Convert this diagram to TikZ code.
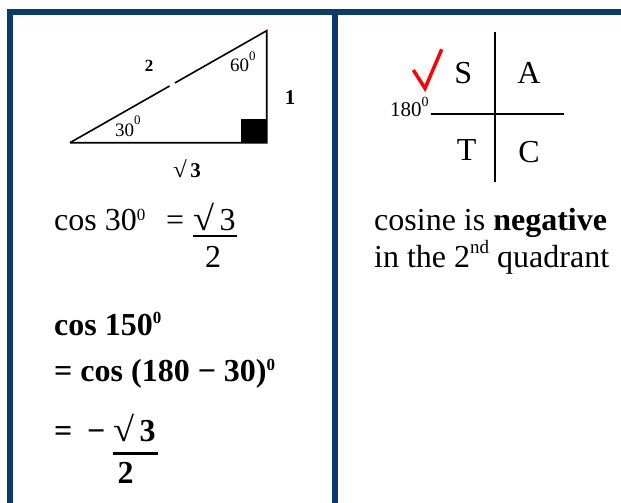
\documentclass[tikz,border=0pt]{standalone}
\usepackage{graphicx}
\usepackage{fontspec}
\setmainfont{Liberation Serif}
\usetikzlibrary{calc}
\definecolor{slideblue}{HTML}{0B3A6F}
\definecolor{tickred}{HTML}{FF0000}
\newcommand{\hi}[3]{\raisebox{#1pt}{\fontsize{#2}{#2}\selectfont #3}}
\newcommand{\rt}{\scalebox{1.2}[1.08]{√}}

\begin{document}
\begin{tikzpicture}[x=1pt,y=-1pt,
    frame/.style={draw=slideblue,line width=6pt},
    edge/.style={line width=1.6pt},
    axis/.style={line width=1.8pt},
    bar/.style={line width=2pt},
    tick/.style={draw=tickred,line width=3.5pt},
    txt/.style={inner sep=0pt,anchor=base west,font=\fontsize{32}{36}\selectfont},
    btxt/.style={txt,font=\fontsize{32}{36}\selectfont\bfseries},
    angle/.style={inner sep=0pt,anchor=base west,font=\fontsize{19}{22}\selectfont},
    side/.style={inner sep=0pt,anchor=base,font=\fontsize{21}{24}\selectfont\bfseries}
  ]
  \useasboundingbox (0,0) rectangle (621,503);
  \draw[frame] (10,503) -- (10,12) -- (621,12);
  \draw[frame] (335,12) -- (335,503);

  % triangle
  \coordinate (tA) at (70,142.7);
  \coordinate (tB) at (266.7,30.7);
  \coordinate (tC) at (266.7,142.7);
  \fill (240.7,119.3) rectangle (265.6,141.8);
  \draw[edge] (tA) -- ($(tA)!0.506!(tB)$);
  \draw[edge] ($(tA)!0.534!(tB)$) -- (tB) -- (tC) -- (tA);
  \node[side,font=\fontsize{17}{19}\selectfont\bfseries] (side2) at (149,71.5) {2};
  \node[side] (side1) at (290,104.5) {1};
  \node[side] (side3) at (187,177.3) {\rt\,3};
  \node[angle] (ang60) at (230,71) {60\hi{10}{13}{0}};
  \node[angle] (ang30) at (115,136.5) {30\hi{12}{13}{0}};

  \node[txt] (cosa) at (54,230.7) {cos 30\hi{10.7}{17}{0}};
  \node[txt] (eqa) at (166,230.7) {=};
  \node[txt] (numa) at (193,230.7) {\rt\,3};
  \node[txt,anchor=base] (dena) at (213,267.3) {2};
  \draw[bar] ($(numa.base west)+(0,5.3)$) -- ($(numa.base east)+(1,5.3)$);

  \node[btxt] (cosb) at (54,335.7) {cos 150\hi{12.7}{17}{0}};
  \node[btxt] (cosc) at (54,381.7) {= cos (180 − 30)\hi{11.7}{17}{0}};
  \node[btxt] (eqd) at (54,441.7) {=};
  \node[btxt] (minus) at (87,441.7) {−};
  \node[btxt] (numd) at (113,441.7) {\rt\,3};
  \node[btxt,anchor=base] (dend) at (125.5,483.3) {2};
  \draw[bar,line width=2.6pt] ($(numd.base west)+(0,11.6)$) -- ($(numd.base east)+(2,11.6)$);

  % quadrants
  \coordinate (vtop) at (495,32.3);
  \coordinate (vbot) at (495,181.7);
  \coordinate (hleft) at (431,114);
  \coordinate (hright) at (564.3,114);
  \draw[axis] (vtop) -- (vbot);
  \draw[axis] (hleft) -- (hright);
  \node[txt,anchor=base] (qs) at (463.3,84) {S};
  \node[txt,anchor=base] (qa) at (529,84) {A};
  \node[txt,anchor=base] (qt) at (466.7,160.7) {T};
  \node[txt,anchor=base] (qc) at (529,162.5) {C};
  \node[angle,font=\fontsize{21}{24}\selectfont] (deg180) at (390,116.5) {180\hi{10.5}{14}{0}};
  \draw[tick] (413.3,70) -- (425,88.3) -- (441.7,49.3);

  \node[txt] (neg1) at (374,230) {cosine is \textbf{negative}};
  \node[txt] (neg2) at (374,267) {in the 2\hi{13.7}{19}{nd} quadrant};
\end{tikzpicture}
\end{document}
